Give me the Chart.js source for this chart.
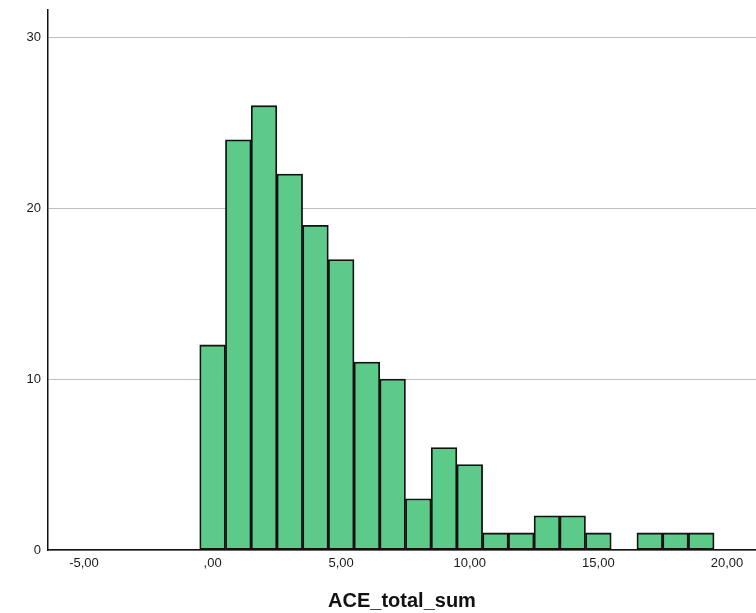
<!DOCTYPE html>
<html>
<head>
<meta charset="utf-8">
<title>ACE_total_sum</title>
<script src="https://cdn.jsdelivr.net/npm/chart.js@4/dist/chart.umd.min.js"></script>
<style>
  body { margin: 0; background: #fff; }
</style>
</head>
<body>
<canvas id="histChart" width="756" height="613"></canvas>
<script>
// histogram bins (centre of bin) and counts
const binCentres = [0, 1, 2, 3, 4, 5, 6, 7, 8, 9, 10, 11, 12, 13, 14, 15, 16, 17, 18, 19];
const binCounts = [12, 24, 26, 22, 19, 17, 11, 10, 3, 6, 5, 1, 1, 2, 2, 1, 0, 1, 1, 1];

const xTickValues = [-5, 0, 5, 10, 15, 20];
const xTickLabels = ['-5,00', ',00', '5,00', '10,00', '15,00', '20,00'];
const yTickValues = [0, 10, 20, 30];
const yTickLabels = ['0', '10', '20', '30'];

const points = binCentres.map((c, i) => ({ x: c, y: binCounts[i] }));

Chart.defaults.font.family = "'Liberation Sans', Arial, sans-serif";
Chart.defaults.color = '#1a1a1a';

new Chart(document.getElementById('histChart'), {
    type: 'bar',
    data: {
        datasets: [{
            label: 'ACE_total_sum',
            data: points,
            backgroundColor: '#5ccb8a',
            borderColor: '#111',
            borderWidth: 1.8,
            borderSkipped: false,
            barPercentage: 1,
            categoryPercentage: 1
        }]
    },
    options: {
        responsive: false,
        animation: false,
        layout: { padding: { top: 10, right: 0, left: 0, bottom: 0 } },
        plugins: {
            legend: { display: false },
            tooltip: { enabled: false }
        },
        scales: {
            x: {
                type: 'linear',
                offset: false,
                min: -6.4,
                max: 21.13,
                grid: { display: false, drawTicks: false },
                border: { display: true, color: '#111', width: 1.5 },
                afterBuildTicks: function (scale) {
                    scale.ticks = xTickValues.map(v => ({ value: v }));
                },
                afterFit: function (scale) {
                    scale.height = 63;
                    scale.paddingLeft = 0;
                    scale.paddingRight = 0;
                },
                ticks: {
                    padding: 6,
                    maxRotation: 0,
                    font: { size: 13 },
                    callback: function (value) {
                        const i = xTickValues.indexOf(value);
                        return i >= 0 ? xTickLabels[i] : '';
                    }
                },
                title: {
                    display: true,
                    text: 'ACE_total_sum',
                    color: '#111',
                    font: { size: 20, weight: 'bold' },
                    padding: { top: 0, bottom: 0 }
                }
            },
            y: {
                min: 0,
                max: 31.6,
                grid: { color: '#bdbdbd', lineWidth: 1, drawTicks: false },
                border: { display: true, color: '#111', width: 1.5 },
                afterBuildTicks: function (scale) {
                    scale.ticks = yTickValues.map(v => ({ value: v }));
                },
                afterFit: function (scale) {
                    scale.width = 48;
                    scale.paddingTop = 0;
                    scale.paddingBottom = 0;
                },
                ticks: {
                    padding: 7,
                    font: { size: 13 },
                    callback: function (value) {
                        const i = yTickValues.indexOf(value);
                        return i >= 0 ? yTickLabels[i] : '';
                    }
                }
            }
        }
    }
});
</script>
</body>
</html>
